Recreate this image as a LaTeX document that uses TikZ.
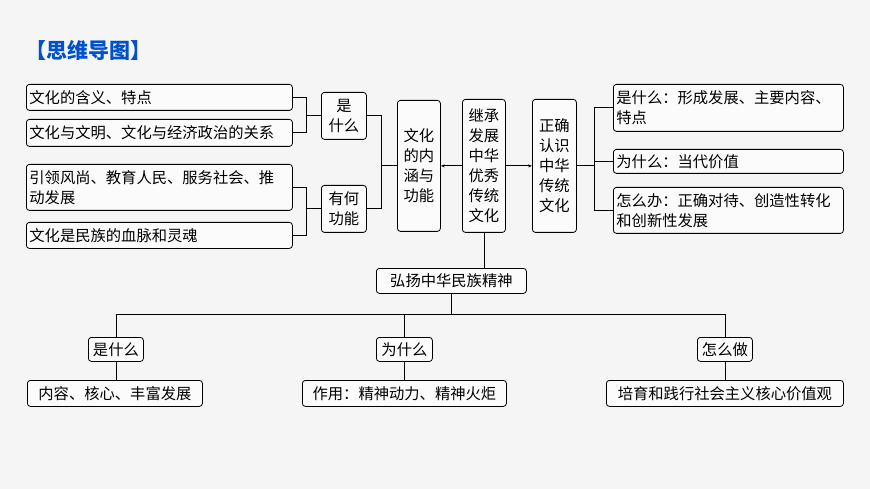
\documentclass[tikz,border=0pt]{standalone}
\usepackage{fontspec}
\newfontfamily\cjk{Noto Sans CJK SC}
\usetikzlibrary{arrows.meta}
\begin{document}
\begin{tikzpicture}[x=1pt,y=-1pt,
  bx/.style={draw=black,line width=0.8pt,rounded corners=3pt,fill=gray!3,inner sep=0pt,font=\cjk\fontsize{15.3}{20}\selectfont},
  ln/.style={line width=0.8pt},
  ar/.style={line width=0.8pt,-{Stealth[length=4pt,width=3pt]}}]
\fill[gray!8] (0,0) rectangle (870,489);
\useasboundingbox (0,0) rectangle (870,489);
\node[anchor=west,text=blue!60!cyan!80!black,font=\cjk\bfseries\fontsize{21}{22}\selectfont] (title) at (22,50) {【思维导图】};
\node[bx,anchor=north west,minimum width=266pt,minimum height=26pt,text width=260pt,align=left] (a1) at (26,84) {文化的含义、特点};
\node[bx,anchor=north west,minimum width=266pt,minimum height=27pt,text width=260pt,align=left] (a2) at (26,119) {文化与文明、文化与经济政治的关系};
\node[bx,anchor=north west,minimum width=266pt,minimum height=46pt,text width=260pt,align=left] (a3) at (26,164) {引领风尚、教育人民、服务社会、推\\动发展};
\node[bx,anchor=north west,minimum width=266pt,minimum height=26pt,text width=260pt,align=left] (a4) at (26,222) {文化是民族的血脉和灵魂};
\node[bx,anchor=north west,minimum width=45pt,minimum height=47pt,text width=32pt,align=center] (b1) at (321,92) {是\\什么};
\node[bx,anchor=north west,minimum width=45pt,minimum height=47pt,text width=32pt,align=center] (b2) at (321,185) {有何\\功能};
\node[bx,anchor=north west,minimum width=43pt,minimum height=131pt,text width=32pt,align=center] (c) at (397,100) {文化\\的内\\涵与\\功能};
\node[bx,anchor=north west,minimum width=43pt,minimum height=133pt,text width=32pt,align=center] (d) at (462,99) {继承\\发展\\中华\\优秀\\传统\\文化};
\node[bx,anchor=north west,minimum width=44pt,minimum height=133pt,text width=32pt,align=center] (e) at (532,99) {正确\\认识\\中华\\传统\\文化};
\node[bx,anchor=north west,minimum width=230pt,minimum height=47pt,text width=224pt,align=left] (r1) at (613,84) {是什么：形成发展、主要内容、\\特点};
\node[bx,anchor=north west,minimum width=230pt,minimum height=24pt,text width=224pt,align=left] (r2) at (613,149) {为什么：当代价值};
\node[bx,anchor=north west,minimum width=230pt,minimum height=46pt,text width=224pt,align=left] (r3) at (613,187) {怎么办：正确对待、创造性转化\\和创新性发展};
\node[bx,anchor=north west,minimum width=150pt,minimum height=25pt] (h) at (376,268) {弘扬中华民族精神};
\node[bx,anchor=north west,minimum width=55pt,minimum height=24pt] (q1) at (88,337) {是什么};
\node[bx,anchor=north west,minimum width=56pt,minimum height=24pt] (q2) at (376,337) {为什么};
\node[bx,anchor=north west,minimum width=55pt,minimum height=24pt] (q3) at (697,337) {怎么做};
\node[bx,anchor=north west,minimum width=175pt,minimum height=26pt] (s1) at (27,380) {内容、核心、丰富发展};
\node[bx,anchor=north west,minimum width=204pt,minimum height=26pt] (s2) at (302,380) {作用：精神动力、精神火炬};
\node[bx,anchor=north west,minimum width=237pt,minimum height=26pt] (s3) at (606,380) {培育和践行社会主义核心价值观};
\coordinate (k1) at (306,0);
\draw[ln] (a1.east) -| (k1 |- a2.east) -- (a2.east);
\draw[ln] (k1 |- b1.west) -- (b1.west);
\draw[ln] (a3.east) -| (k1 |- a4.east) -- (a4.east);
\draw[ln] (k1 |- b2.west) -- (b2.west);
\coordinate (k2) at (381,0);
\draw[ln] (b1.east) -| (k2 |- b2.east) -- (b2.east);
\draw[ln] (k2 |- c.west) -- (c.west);
\draw[ar] (d.west) -- (c.east);
\draw[ar] (d.east) -- (e.west);
\coordinate (k3) at (594,0);
\draw[ln] (r1.west) -| (k3 |- r3.west) -- (r3.west);
\draw[ln] (k3 |- r2.west) -- (r2.west);
\draw[ln] (e.east) -- (k3 |- e.east);
\draw[ln] (d.south) -- (d.south |- h.north);
\coordinate (m) at (0,314);
\draw[ln] (h.south) -- (h.south |- m);
\draw[ln] (q1.north |- m) -- (q3.north |- m);
\draw[ln] (q1.north |- m) -- (q1.north);
\draw[ln] (q2.north |- m) -- (q2.north);
\draw[ln] (q3.north |- m) -- (q3.north);
\draw[ln] (q1.south) -- (q1.south |- s1.north);
\draw[ln] (q2.south) -- (q2.south |- s2.north);
\draw[ln] (q3.south) -- (q3.south |- s3.north);
\end{tikzpicture}
\end{document}
